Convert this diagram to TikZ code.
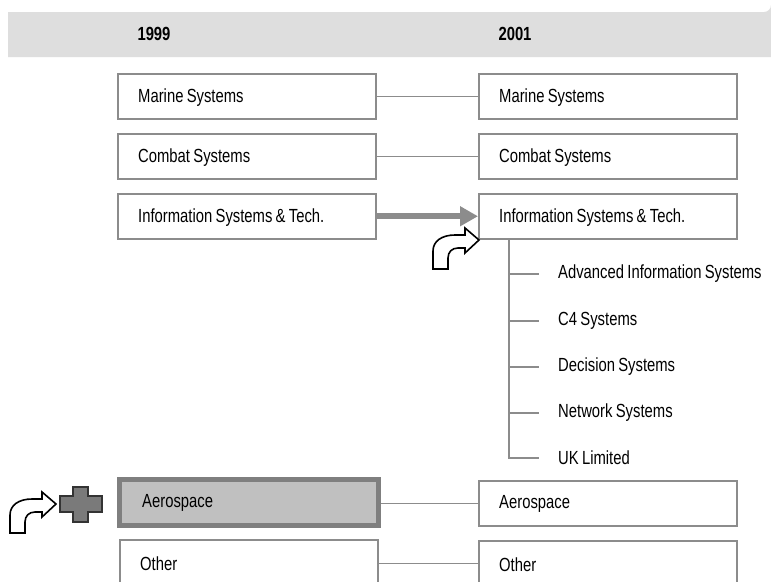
\documentclass[tikz,border=0pt]{standalone}
\usepackage{fontspec}
\setmainfont{Liberation Sans}[FakeStretch=0.78,WordSpace=0.8]
\usetikzlibrary{arrows.meta}
\definecolor{lnc}{HTML}{8C8C8C}
\definecolor{band}{HTML}{DEDEDE}
\definecolor{aerofill}{HTML}{C0C0C0}
\definecolor{aeroline}{HTML}{7F7F7F}
\definecolor{crossfill}{HTML}{7A7A7A}
\begin{document}
\begin{tikzpicture}[x=1pt,y=-1pt,
  box/.style={draw=lnc, line width=1.5pt, rectangle, anchor=north west,
    minimum width=258pt, minimum height=45pt, inner sep=0pt, fill=white},
  aerobox/.style={box, draw=aeroline, fill=aerofill, line width=4.5pt,
    minimum width=259pt, minimum height=46pt},
  lbl/.style={anchor=west, inner sep=0pt, font=\fontsize{19}{22}\selectfont, yshift=-1pt},
  conn/.style={draw=lnc, line width=1.5pt},
  sub/.style={anchor=west, inner sep=0pt, font=\fontsize{19}{22}\selectfont},
  year/.style={font=\fontsize{19}{22}\selectfont\bfseries, inner sep=0pt},
  bent/.style={draw=black, line width=1.6pt, fill=white, line join=miter},
]
\clip (0,0) rectangle (771,581);
\fill[white] (0,0) rectangle (771,581);
% header band
\fill[band] (8,12) -- (764,12) arc[start angle=90, end angle=0, radius=7] -- (771,57) -- (8,57) -- cycle;
\node[year] (y1) at (154,34) {1999};
\node[year] (y2) at (515,34) {2001};
% left column
\node[box] (lmar) at (117,73) {};
\node[box] (lcom) at (117,133) {};
\node[box] (linf) at (117,193) {};
\node[aerobox] (laer) at (117,477) {};
\node[box] (loth) at (119,539) {};
\node[lbl] (lmarT) at ([xshift=21pt]lmar.west) {Marine Systems};
\node[lbl] (lcomT) at ([xshift=21pt]lcom.west) {Combat Systems};
\node[lbl] (linfT) at ([xshift=21pt]linf.west) {Information Systems \& Tech.};
\node[lbl] (laerT) at ([xshift=25pt]laer.west) {Aerospace};
\node[lbl] (lothT) at ([xshift=21pt]loth.west) {Other};
% right column
\node[box] (rmar) at (478,73) {};
\node[box] (rcom) at (478,133) {};
\node[box] (rinf) at (478,193) {};
\node[box] (raer) at (478,480) {};
\node[box] (roth) at (478,540) {};
\node[lbl] (rmarT) at ([xshift=21pt]rmar.west) {Marine Systems};
\node[lbl] (rcomT) at ([xshift=21pt]rcom.west) {Combat Systems};
\node[lbl] (rinfT) at ([xshift=21pt]rinf.west) {Information Systems \& Tech.};
\node[lbl] (raerT) at ([xshift=21pt]raer.west) {Aerospace};
\node[lbl] (rothT) at ([xshift=21pt]roth.west) {Other};
% connectors
\draw[conn] (lmar.east) -- (rmar.west);
\draw[conn] (lcom.east) -- (rcom.west);
\draw[conn] (laer.east |- raer.west) -- (raer.west);
\draw[conn] (loth.east |- roth.west) -- (roth.west);
\draw[draw=lnc, line width=6pt, -{Triangle[length=18pt,width=19pt]}] (linf.east) -- (rinf.west);
% tree
\coordinate (tt) at (509,239);
\coordinate (b1) at (539,274);
\coordinate (b2) at (539,321);
\coordinate (b3) at (539,367);
\coordinate (b4) at (539,413);
\coordinate (b5) at (539,458);
\draw[conn] (tt) |- (b5);
\foreach \i in {1,2,3,4} \draw[conn] (tt |- b\i) -- (b\i);
\node[sub] (s1) at (558,274) {Advanced Information Systems};
\node[sub] (s2) at (558,321) {C4 Systems};
\node[sub] (s3) at (558,367) {Decision Systems};
\node[sub] (s4) at (558,413) {Network Systems};
\node[sub] (s5) at (558,458) {UK Limited};
% bent arrow near Information Systems
\path[bent] (433,269) -- (433,251) .. controls (433,241) and (442,235) .. (455,235)
  -- (465,235) -- (465,228) -- (479,240) -- (465,253) -- (465,248) -- (458,248)
  .. controls (452,248) and (448,252) .. (448,258) -- (448,269) -- cycle;
% bent arrow near Aerospace
\begin{scope}[shift={(-423,264)}]
\path[bent] (433,269) -- (433,251) .. controls (433,241) and (442,235) .. (455,235)
  -- (465,235) -- (465,228) -- (479,240) -- (465,253) -- (465,248) -- (458,248)
  .. controls (452,248) and (448,252) .. (448,258) -- (448,269) -- cycle;
\end{scope}
% plus sign
\path[draw=black!80, fill=crossfill, line width=1.6pt]
  (73,487) -- (88,487) -- (88,496) -- (102,496) -- (102,512) -- (88,512)
  -- (88,522) -- (73,522) -- (73,512) -- (60,512) -- (60,496) -- (73,496) -- cycle;
\end{tikzpicture}
\end{document}
